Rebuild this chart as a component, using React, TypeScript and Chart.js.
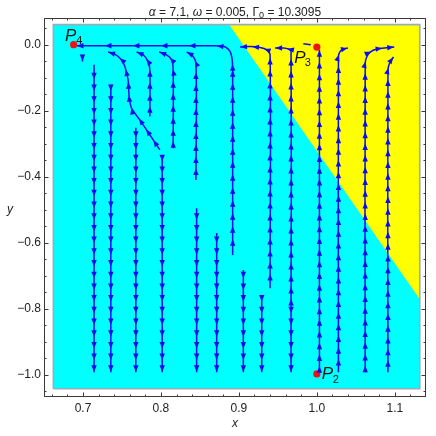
import React, { useEffect, useRef } from "react";
import { Chart, registerables } from "chart.js";

Chart.register(...registerables);

// ---- axes / ticks ----
const X_MIN = 0.65;
const X_MAX = 1.14;
const Y_MIN = -1.068;
const Y_MAX = 0.081;
const X_TICKS = [0.7, 0.8, 0.9, 1.0, 1.1];
const Y_TICKS = [0.0, -0.2, -0.4, -0.6, -0.8, -1.0];

// ---- title ----
const TITLE_PARTS = [
  { t: "α", s: "italic" },
  { t: " = 7.1, ", s: "normal" },
  { t: "ω", s: "italic" },
  { t: " = 0.005, ", s: "normal" },
  { t: "Γ", s: "normal" },
  { t: "0", s: "sub" },
  { t: " = 10.3095", s: "normal" },
];

// ---- region (cyan rect + yellow part) ----
const REGION_X = [0.662, 1.132];
const REGION_Y = [-1.043, 0.061];
const YELLOW_X = [0.8874, 1.132, 1.132, 0.8874];
const YELLOW_Y = [0.061, 0.061, -0.772, 0.061];

// ---- fixed points ----
const POINT_NAMES = ["4", "3", "2"];
const POINT_X = [0.688, 1.0, 1.0];
const POINT_Y = [0.0, -0.007, -0.998];

// ---- stream lines (ordered in flow direction) ----
const D1 = [[0.7142, -0.0608], [0.7142, -0.9931]];
const D2 = [[0.7357, -0.1215], [0.7357, -0.9931]];
const D3 = [[0.7678, -0.2521], [0.7678, -0.9931]];
const D4 = [[0.8016, -0.3341], [0.8016, -0.9931]];
const D5 = [[0.8458, -0.496], [0.8458, -0.9931]];
const D6 = [[0.8715, -0.571], [0.8715, -0.9931]];
const D7 = [[0.9057, -0.6833], [0.9057, -0.9931]];
const D8 = [[0.9293, -0.7644], [0.9293, -0.9931]];
const D9 = [[0.9669, -0.7896], [0.9669, -0.9931]];
const U1 = [[0.7986, -0.3189], [0.7858, -0.2735], [0.7729, -0.2279], [0.7623, -0.1923], [0.7592, -0.1571], [0.7579, -0.1064], [0.7537, -0.066], [0.7494, -0.0456], [0.7408, -0.0283], [0.7322, -0.0222]];
const U2 = [[0.7858, -0.2178], [0.7858, -0.076], [0.7836, -0.0508], [0.7772, -0.0305], [0.7687, -0.0222]];
const U3 = [[0.8157, -0.3138], [0.8157, -0.076], [0.8137, -0.0456], [0.8072, -0.0305], [0.7977, -0.0222]];
const U4 = [[0.8449, -0.41], [0.8449, -0.0557], [0.8394, -0.0305], [0.8329, -0.0222]];
const S1A = [[0.892, -0.6378], [0.892, -0.076]];
const S1B = [[0.892, -0.076], [0.8914, -0.0456], [0.8886, -0.0204], [0.8821, -0.0062], [0.8694, -0.0031], [0.6916, -0.0031]];
const U6 = [[0.94, -0.738], [0.94, -0.0305], [0.9357, -0.0153], [0.9271, -0.0083], [0.9143, -0.0052], [0.9014, -0.0071]];
const U7 = [[0.9669, -0.7896], [0.9669, -0.0204], [0.9635, -0.0131], [0.957, -0.0101], [0.9464, -0.0101]];
const U8 = [[1.0033, -0.9931], [1.0033, -0.0153]];
const U9 = [[1.0277, -0.9931], [1.0277, -0.0356], [1.0299, -0.0204], [1.0341, -0.0131], [1.0398, -0.0101]];
const U10 = [[1.062, -0.9931], [1.062, -0.0557], [1.0642, -0.0356], [1.0684, -0.0222], [1.077, -0.0131], [1.0899, -0.0092], [1.0993, -0.0071]];
const U11 = [[1.0912, -0.9931], [1.0912, -0.076], [1.0941, -0.0508], [1.0984, -0.0374]];
const T1 = [[0.6993, -0.0305], [0.6993, -0.0508]];
const T2 = [[0.9827, 0.003], [0.9922, 0.0001]];

const STREAMS = [D1, D2, D3, D4, D5, D6, D7, D8, D9, U1, U2, U3, U4, S1A, S1B, U6, U7, U8, U9, U10, U11, T1, T2];
const ARROW_SPACING = [11.7, 11.7, 11.7, 11.7, 11.7, 11.7, 11.7, 11.7, 11.7, 13, 12, 12, 12, 13, 28, 12, 12, 11.7, 11.7, 11.7, 11.7, 20, 0];

const BLUE = "#0b0bf2";
const FONT = '"Liberation Sans", Arial, sans-serif';

function fmtY(v: number) {
  const r = Math.round(v * 10) / 10;
  if (Math.abs(r) < 1e-9) return "0.0";
  return r < 0 ? "−" + Math.abs(r).toFixed(1) : r.toFixed(1);
}

function drawArrows(ctx: CanvasRenderingContext2D, pts: { x: number; y: number }[], spacing: number) {
  const lens: number[] = [];
  let total = 0;
  for (let k = 1; k < pts.length; k++) {
    const l = Math.hypot(pts[k].x - pts[k - 1].x, pts[k].y - pts[k - 1].y);
    lens.push(l);
    total += l;
  }
  const L = 6.5;
  const W = 2.7;
  for (let d = total - 0.5; d >= 4; d -= spacing) {
    let acc = 0;
    let k = 0;
    while (k < lens.length - 1 && (acc + lens[k] < d || lens[k] === 0)) {
      acc += lens[k];
      k++;
    }
    if (!lens[k]) continue;
    const t = (d - acc) / lens[k];
    const p0 = pts[k];
    const p1 = pts[k + 1];
    const ux = (p1.x - p0.x) / lens[k];
    const uy = (p1.y - p0.y) / lens[k];
    const x = p0.x + (p1.x - p0.x) * t;
    const y = p0.y + (p1.y - p0.y) * t;
    const bx = x - ux * L;
    const by = y - uy * L;
    ctx.beginPath();
    ctx.moveTo(x, y);
    ctx.lineTo(bx - uy * W, by + ux * W);
    ctx.lineTo(bx + uy * W, by - ux * W);
    ctx.closePath();
    ctx.fill();
  }
}

const decorPlugin = {
  id: "decor",
  afterDatasetsDraw(chart: any) {
    const ctx: CanvasRenderingContext2D = chart.ctx;
    const a = chart.chartArea;
    ctx.save();
    ctx.beginPath();
    ctx.rect(a.left, a.top, a.right - a.left, a.bottom - a.top);
    ctx.clip();
    ctx.fillStyle = BLUE;
    chart.data.datasets.forEach((ds: any, i: number) => {
      if (!ds.arrowSpacing) return;
      const meta = chart.getDatasetMeta(i);
      const pts = meta.data.map((p: any) => ({ x: p.x, y: p.y }));
      drawArrows(ctx, pts, ds.arrowSpacing);
    });
    ctx.restore();
  },
  afterDraw(chart: any) {
    const ctx: CanvasRenderingContext2D = chart.ctx;
    const a = chart.chartArea;
    const xs = chart.scales.x;
    const ys = chart.scales.y;
    ctx.save();
    // frame
    ctx.strokeStyle = "#3a3a3a";
    ctx.lineWidth = 1;
    ctx.strokeRect(Math.round(a.left) + 0.5, Math.round(a.top) + 0.5, Math.round(a.right - a.left) - 1, Math.round(a.bottom - a.top) - 1);
    // ticks
    ctx.beginPath();
    for (let i = 0; i <= 30; i++) {
      const v = 0.66 + i * 0.02;
      if (v > X_MAX) break;
      const major = Math.abs(v * 10 - Math.round(v * 10)) < 1e-6;
      const len = major ? 4.5 : 2.5;
      const px = Math.round(xs.getPixelForValue(v)) + 0.5;
      ctx.moveTo(px, a.bottom);
      ctx.lineTo(px, a.bottom - len);
      ctx.moveTo(px, a.top);
      ctx.lineTo(px, a.top + len);
    }
    for (let i = 0; i <= 30; i++) {
      const v = -1.05 + i * 0.05;
      if (v > Y_MAX) break;
      const major = Math.abs(v * 5 - Math.round(v * 5)) < 1e-6;
      const len = major ? 4.5 : 2.5;
      const py = Math.round(ys.getPixelForValue(v)) + 0.5;
      ctx.moveTo(a.left, py);
      ctx.lineTo(a.left + len, py);
      ctx.moveTo(a.right, py);
      ctx.lineTo(a.right - len, py);
    }
    ctx.stroke();

    // title
    const fonts: any = {
      normal: `12px ${FONT}`,
      italic: `italic 12px ${FONT}`,
      sub: `9px ${FONT}`,
    };
    let w = 0;
    TITLE_PARTS.forEach((p) => {
      ctx.font = fonts[p.s];
      w += ctx.measureText(p.t).width;
    });
    let tx = (a.left + a.right) / 2 - w / 2;
    ctx.fillStyle = "#222";
    ctx.textBaseline = "alphabetic";
    ctx.textAlign = "left";
    TITLE_PARTS.forEach((p) => {
      ctx.font = fonts[p.s];
      ctx.fillText(p.t, tx, p.s === "sub" ? 18 : 15.5);
      tx += ctx.measureText(p.t).width;
    });

    // axis labels
    ctx.font = `italic 12px ${FONT}`;
    ctx.textAlign = "center";
    ctx.fillText("x", (a.left + a.right) / 2, 427);
    ctx.fillText("y", 10, 212.5);

    // point labels
    const offs = [
      [-8.5, -3.3, 2.7, -1],
      [-22.5, 16, -12, 19.4],
      [5, 5, 16, 9.4],
    ];
    ctx.textAlign = "left";
    ctx.fillStyle = "#111";
    POINT_NAMES.forEach((n, i) => {
      const px = xs.getPixelForValue(POINT_X[i]);
      const py = ys.getPixelForValue(POINT_Y[i]);
      const o = offs[i];
      ctx.font = `italic 17px ${FONT}`;
      ctx.fillText("P", px + o[0], py + o[1]);
      ctx.font = `11px ${FONT}`;
      ctx.fillText(n, px + o[2], py + o[3]);
    });
    ctx.restore();
  },
};

export default function App() {
  const ref = useRef<HTMLCanvasElement>(null);
  useEffect(() => {
    if (!ref.current) return;
    const toXY = (arr: number[][]) => arr.map(([x, y]) => ({ x, y }));
    const rect = [
      { x: REGION_X[0], y: REGION_Y[0] },
      { x: REGION_X[1], y: REGION_Y[0] },
      { x: REGION_X[1], y: REGION_Y[1] },
      { x: REGION_X[0], y: REGION_Y[1] },
      { x: REGION_X[0], y: REGION_Y[0] },
    ];
    const yellow = YELLOW_X.map((x, i) => ({ x, y: YELLOW_Y[i] }));
    const datasets: any[] = [
      { data: rect, fill: "shape", backgroundColor: "#00ffff", borderWidth: 0, borderColor: "rgba(0,0,0,0)", order: 10 },
      { data: yellow, fill: "shape", backgroundColor: "#ffff00", borderWidth: 0, borderColor: "rgba(0,0,0,0)", order: 9 },
      { data: rect, fill: false, borderColor: "#9aabbe", borderWidth: 1.6, order: 8 },
      ...STREAMS.map((s, i) => ({
        data: toXY(s),
        fill: false,
        borderColor: BLUE,
        borderWidth: 1.5,
        tension: s.length > 2 ? 0.3 : 0,
        order: 2,
        arrowSpacing: ARROW_SPACING[i],
      })),
      {
        data: POINT_X.map((x, i) => ({ x, y: POINT_Y[i] })),
        showLine: false,
        pointRadius: 3.6,
        pointBackgroundColor: "#f01212",
        pointBorderWidth: 0,
        order: 0,
      },
    ];
    const chart = new Chart(ref.current, {
      type: "line",
      data: { datasets },
      plugins: [decorPlugin],
      options: {
        responsive: false,
        animation: false,
        devicePixelRatio: 1,
        layout: { padding: { top: 18, right: 10, left: 0, bottom: 0 } },
        elements: { point: { radius: 0, hoverRadius: 0 } },
        plugins: { legend: { display: false }, tooltip: { enabled: false }, title: { display: false } },
        events: [],
        scales: {
          x: {
            type: "linear",
            min: X_MIN,
            max: X_MAX,
            grid: { display: false, drawTicks: false },
            border: { display: false },
            afterBuildTicks: (s: any) => {
              s.ticks = X_TICKS.map((v) => ({ value: v }));
            },
            afterFit: (s: any) => {
              s.height = 39;
            },
            ticks: {
              padding: 4,
              autoSkip: false,
              maxRotation: 0,
              color: "#222",
              font: { family: FONT, size: 12 },
              callback: (v: any) => Number(v).toFixed(1),
            },
          },
          y: {
            type: "linear",
            min: Y_MIN,
            max: Y_MAX,
            grid: { display: false, drawTicks: false },
            border: { display: false },
            afterBuildTicks: (s: any) => {
              s.ticks = Y_TICKS.map((v) => ({ value: v }));
            },
            afterFit: (s: any) => {
              s.width = 44;
            },
            ticks: {
              padding: 3,
              autoSkip: false,
              color: "#222",
              font: { family: FONT, size: 12 },
              callback: (v: any) => fmtY(Number(v)),
            },
          },
        },
      } as any,
    });
    return () => chart.destroy();
  }, []);
  return (
    <div style={{ position: "fixed", left: 0, top: 0, width: 436, height: 436, background: "#fff" }}>
      <canvas ref={ref} width={436} height={436} />
    </div>
  );
}
